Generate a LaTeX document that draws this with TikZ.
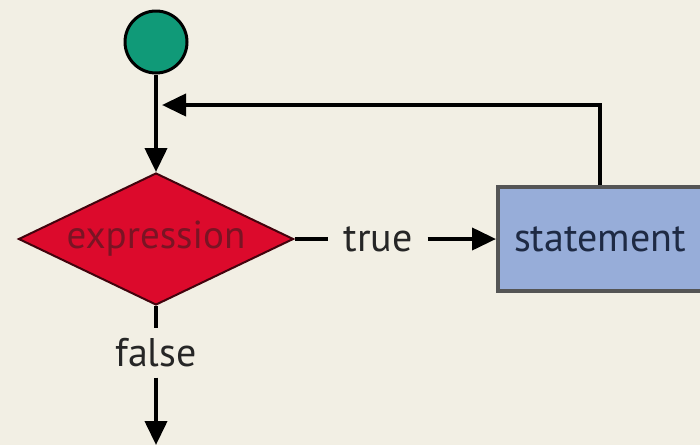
\documentclass[tikz,border=0pt]{standalone}
\usepackage{fontspec}
\setmainfont{PT Sans}
\usetikzlibrary{shapes.geometric,arrows.meta}
\definecolor{paper}{HTML}{F2EFE4}
\definecolor{startfill}{HTML}{109A78}
\definecolor{decfill}{HTML}{DC0A2C}
\definecolor{dectext}{HTML}{7A1424}
\definecolor{stmtfill}{HTML}{97ADD9}
\definecolor{stmtdraw}{HTML}{555555}
\definecolor{stmttext}{HTML}{1E2A44}
\tikzset{
  flow/.style={line width=4pt, draw=black, -{Triangle[length=24pt,width=22pt]}},
  plain/.style={line width=4pt, draw=black},
  startnode/.style={circle, fill=startfill, draw=black, line width=3pt, minimum size=62pt, inner sep=0pt},
  decision/.style={diamond, fill=decfill, draw=black!70!decfill, line width=2pt, minimum width=275pt, minimum height=132pt, inner sep=0pt, aspect=2.08, text=dectext, font=\fontsize{39}{42}\selectfont},
  stmtbox/.style={rectangle, fill=stmtfill, draw=stmtdraw, line width=4pt, minimum width=204pt, minimum height=104pt, text=stmttext, font=\fontsize{40}{44}\selectfont},
  tag/.style={font=\fontsize{40}{44}\selectfont, text=black!85, inner sep=0pt},
}
\begin{document}
\begin{tikzpicture}[x=1pt, y=-1pt]
  \fill[paper] (0,0) rectangle (700,445);
  \useasboundingbox (0,0) rectangle (700,445);

  \node[startnode] (start) at (156,42) {};
  \node[decision] (dec) at (156,239) {expression};
  \node[stmtbox] (stmt) at (600,239) {statement};
  \node[tag, inner xsep=15pt] (true) at (378,239) {true};
  \node[tag, inner ysep=10pt] (false) at (156,353) {false};
  \coordinate (join) at (156,105);
  \coordinate (exit) at (156,445);

  \draw[flow] (start) -- (dec.north);
  \draw[flow, shorten >=6pt] (stmt.north) |- (join);
  \draw[plain] (dec.east) -- (true.west);
  \draw[flow] (true.east) -- (stmt.west);
  \draw[plain] (dec.south) -- (false.north);
  \draw[flow] (false.south) -- (exit);
\end{tikzpicture}
\end{document}
